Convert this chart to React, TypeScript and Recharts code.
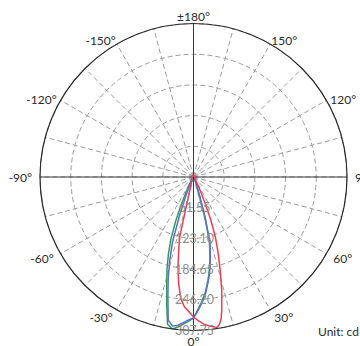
import { RadarChart, Radar, PolarGrid, PolarAngleAxis, PolarRadiusAxis } from 'recharts'

// gamma angle in degrees: 0 = straight down, positive to the right
const gammaAngles = [
  -180, -150, -120, -90, -60, -45, -35, -30, -26, -24, -22, -20, -18, -16, -14, -13, -12, -10, -8, -6, -4, -2,
  0, 2, 4, 6, 8, 9, 10, 11, 12, 14, 16, 18, 20, 22, 24, 26, 30, 35, 45, 60, 90, 120, 150, 180,
]

const redCd = [
  3, 3, 3, 3, 4, 5, 6, 7, 8, 9, 10, 12, 15, 24, 50, 122, 140, 179, 215, 245, 261, 270,
  281, 289, 296, 300, 304, 305, 300, 290, 273, 234, 194, 160, 128, 92, 55, 32, 15, 8, 5, 4, 3, 3, 3, 3,
]

const blueCd = [
  3, 3, 3, 3, 4, 5, 7, 9, 15, 24, 42, 80, 135, 172, 210, 227, 247, 292, 302, 299, 293, 287,
  283, 268, 252, 234, 212, 201, 189, 176, 162, 137, 86, 40, 22, 15, 11, 9, 7, 6, 5, 4, 3, 3, 3, 3,
]

const greenCd = [
  3, 3, 3, 3, 4, 5, 8, 14, 33, 60, 95, 133, 163, 193, 222, 238, 259, 300, 307.75, 303, 296, 290,
  283, 265, 249, 231, 209, 197, 185, 172, 158, 132, 80, 36, 20, 13, 10, 8, 6, 5, 4, 4, 3, 3, 3, 3,
]

const ringTicks = [0, 61.55, 123.1, 184.65, 246.2, 307.75]
const spokeTicks = [-165, -150, -135, -120, -105, -90, -75, -60, -45, -30, -15, 0, 15, 30, 45, 60, 75, 90, 105, 120, 135, 150, 165, 180]

const rows = gammaAngles.map((a, i) => ({ angle: a, red: redCd[i], blue: blueCd[i], green: greenCd[i] }))

const font = 'Lato, "Open Sans", sans-serif'

function angleTick(props: any) {
  const { x, y, payload, textAnchor } = props
  const v = payload.value
  if (v % 30 !== 0) return <g />
  const upper = Math.abs(v) > 90 && Math.abs(v) < 180
  let dx = 0
  if (upper) dx = textAnchor === 'start' ? -3 : 3
  const dy = upper ? 3.5 : v === 0 ? 3 : 0.5
  const label = v === 180 ? '±180°' : `${v}°`
  return (
    <text x={x + dx} y={y + dy} textAnchor={textAnchor} dominantBaseline="central" fontSize={12} fill="#2a2a2a" fontFamily={font}>
      {label}
    </text>
  )
}

function radiusTick(props: any) {
  const { x, y, payload } = props
  if (payload.value === 0) return <g />
  return (
    <text x={x + 1} y={y} textAnchor="middle" dominantBaseline="central" fontSize={12.5} fill="#8e8e8e" fontFamily={font}>
      {payload.value.toFixed(2)}
    </text>
  )
}

export default function App() {
  return (
    <div style={{ position: 'absolute', left: 0, top: 0, width: 360, height: 346, background: '#fff' }}>
      <RadarChart
        width={360}
        height={346}
        cx={193.5}
        cy={177}
        outerRadius={153.5}
        startAngle={-270}
        endAngle={90}
        data={rows}
        margin={{ top: 0, right: 0, bottom: 0, left: 0 }}
      >
        <PolarGrid gridType="circle" stroke="#9c9c9c" strokeDasharray="5 3" strokeWidth={1} />
        <PolarGrid gridType="circle" polarAngles={[0, 90, 180, 270]} polarRadius={[]} stroke="#3a3a3a" strokeWidth={1} />
        <PolarAngleAxis
          dataKey="angle"
          type="number"
          domain={[-180, 180]}
          ticks={spokeTicks}
          tick={angleTick}
          tickLine={false}
          axisLineType="circle"
          axisLine={{ stroke: '#2a2a2a', strokeWidth: 1.2 }}
        />
        <PolarRadiusAxis
          angle={-90}
          domain={[0, 307.75]}
          ticks={ringTicks}
          tick={radiusTick}
          axisLine={false}
          tickLine={false}
        />
        <Radar dataKey="green" stroke="#2f9e55" strokeWidth={1.5} fill="none" fillOpacity={0} dot={false} isAnimationActive={false} />
        <Radar dataKey="blue" stroke="#5b6fd3" strokeWidth={1.5} fill="none" fillOpacity={0} dot={false} isAnimationActive={false} />
        <Radar dataKey="red" stroke="#ee3f52" strokeWidth={1.5} fill="none" fillOpacity={0} dot={false} isAnimationActive={false} />
      </RadarChart>
      <div style={{ position: 'absolute', left: 318, top: 324, fontSize: 12, fontFamily: font, color: '#2a2a2a', whiteSpace: 'nowrap' }}>
        Unit: cd
      </div>
    </div>
  )
}
